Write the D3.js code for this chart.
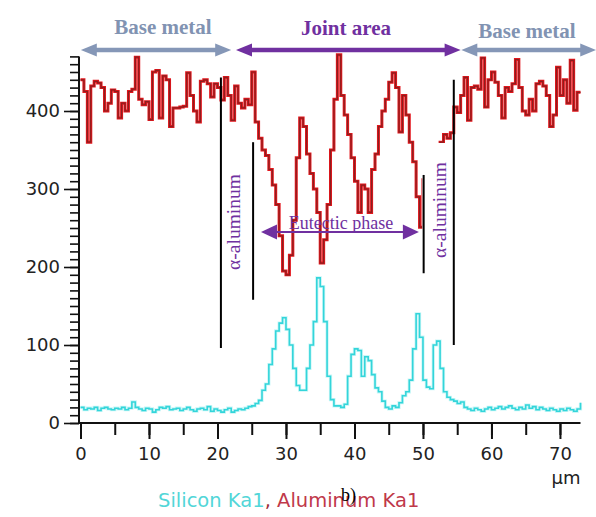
<!DOCTYPE html>
<html><head><meta charset="utf-8">
<script src="https://cdn.jsdelivr.net/npm/d3@7/dist/d3.min.js"></script>
<style>body{margin:0;background:#fff;}svg{display:block;}</style>
</head><body>
<svg id="c" width="596" height="517"></svg>
<script>
// ---- data ----
const distance = d3.range(0, 73.5, 0.5); // µm sampling grid
const aluminum = [
440,425,360,432,438,436,430,400,410,427,
425,391,410,400,425,428,469,415,408,412,
389,450,452,391,445,440,380,404,404,405,
406,449,420,400,386,438,440,435,418,435,
430,414,443,420,388,432,410,404,415,408,
450,386,365,350,343,325,305,280,240,195,
190,215,260,340,391,380,345,320,300,270,
205,235,280,350,415,472,420,395,370,340,
310,270,305,300,270,325,345,380,400,415,
437,449,430,373,420,395,360,335,290,251,
312,320,330,340,350,360,370,365,372,405,
398,420,443,388,430,432,428,468,405,440,
450,437,420,391,430,425,435,466,430,400,
395,415,400,435,438,432,420,380,395,456,
420,440,410,465,401,424,424];
const silicon = [
20,17,19,18,20,16,19,20,18,17,
19,18,20,17,19,27,20,18,16,19,
18,14,17,20,19,21,17,18,19,16,
18,20,17,15,18,19,17,21,15,18,
16,14,17,19,14,16,18,17,19,21,
22,25,29,42,50,75,95,118,128,135,
120,100,70,48,42,42,70,100,130,186,
175,130,60,30,22,22,20,24,60,88,
95,93,60,85,80,62,45,40,28,20,
18,22,20,26,35,40,55,95,140,110,
55,46,44,100,105,70,40,33,30,28,
25,27,20,18,16,19,17,15,18,20,
17,19,21,18,20,22,19,17,20,18,
23,19,21,17,20,18,16,19,17,15,
18,16,19,17,15,18,26];
const xTicks = [0,10,20,30,40,50,60,70];
const yTicks = [0,100,200,300,400];
const regionLabels = ["Base metal","Joint area","Base metal"];
const legendLabels = ["Silicon Ka1", "Aluminum Ka1"];

// ---- scales ----
const svg = d3.select("#c");
const x = d3.scaleLinear().domain([0,73]).range([80.5,580.5]);
const y = d3.scaleLinear().domain([0,470]).range([423,56.4]);

const tickFont = "'DejaVu Sans', sans-serif";

// Axes
const gx = svg.append("g").attr("transform","translate(0,423)");
gx.call(d3.axisBottom(x).tickValues(d3.range(0,73,5)).tickSize(12).tickFormat(""));
gx.call(g=>g.selectAll(".tick line").attr("stroke","#111").attr("stroke-width",2));
const gx2 = svg.append("g").attr("transform","translate(0,423)");
gx2.call(d3.axisBottom(x).tickValues(xTicks).tickSize(16).tickPadding(8));
gx.select(".domain").remove();
gx2.select(".domain").remove();
gx2.selectAll(".tick line").attr("stroke","#111").attr("stroke-width",2);
gx2.selectAll(".tick text").attr("font-family",tickFont).attr("font-size",18).attr("fill","#222");

const gy = svg.append("g").attr("transform","translate(79,0)");
gy.call(d3.axisLeft(y).tickValues(d3.range(0,471,10)).tickSize(9).tickFormat(""));
gy.select(".domain").remove();
gy.selectAll(".tick line").attr("stroke","#111").attr("stroke-width",1.6);
const gy2 = svg.append("g").attr("transform","translate(79,0)");
gy2.call(d3.axisLeft(y).tickValues(yTicks).tickSize(15).tickPadding(4));
gy2.select(".domain").remove();
gy2.selectAll(".tick line").attr("stroke","#111").attr("stroke-width",1.6);
gy2.selectAll(".tick text").attr("font-family",tickFont).attr("font-size",18).attr("fill","#222");

svg.append("line").attr("x1",79).attr("x2",79).attr("y1",y(470)).attr("y2",424).attr("stroke","#111").attr("stroke-width",2);
svg.append("line").attr("x1",79).attr("x2",x(73)).attr("y1",423).attr("y2",423).attr("stroke","#111").attr("stroke-width",2);

svg.append("text").attr("x",566).attr("y",484).attr("text-anchor","middle")
  .attr("font-family",tickFont).attr("font-size",18).attr("fill","#222").text("µm");

// Lines
const alLine = d3.line().x((d,i)=>x(distance[i])).y(d=>y(d)).curve(d3.curveStepAfter);
const siLine = d3.line().x((d,i)=>x(distance[i])).y(d=>y(d)).curve(d3.curveStepAfter);

svg.append("path").datum(silicon).attr("d",siLine).attr("fill","none")
  .attr("stroke","#9eeef0").attr("stroke-width",3.2).attr("opacity",0.55);
svg.append("path").datum(silicon).attr("d",siLine).attr("fill","none")
  .attr("stroke","#33d5da").attr("stroke-width",1.6);

svg.append("path").datum(aluminum).attr("d",alLine).attr("fill","none")
  .attr("stroke","#e3161c").attr("stroke-width",3);
svg.append("path").datum(aluminum).attr("d",alLine).attr("fill","none")
  .attr("stroke","#8a1f1f").attr("stroke-width",1.2);

// White box behind right alpha-aluminum label
svg.append("rect").attr("x",x(49.9)).attr("y",143).attr("width",29).attr("height",135).attr("fill","#fff");

// vertical black markers
const markers = [[20.5,443,96],[25.2,360,158],[50.1,318,192],[54.5,440,100]];
markers.forEach(m=>{
  svg.append("line").attr("x1",x(m[0])).attr("x2",x(m[0])).attr("y1",y(m[1])).attr("y2",y(m[2]))
    .attr("stroke","#000").attr("stroke-width",2);
});

// arrows
function arrow(xa, xb, yy, color, w, hl, hh, left, right){
  const a = x(xa), b = x(xb);
  svg.append("line").attr("x1", left? a+hl-1 : a).attr("x2", right? b-hl+1 : b)
    .attr("y1",yy).attr("y2",yy).attr("stroke",color).attr("stroke-width",w);
  if(left) svg.append("path").attr("d",`M${a},${yy}L${a+hl},${yy-hh}L${a+hl},${yy+hh}Z`).attr("fill",color);
  if(right) svg.append("path").attr("d",`M${b},${yy}L${b-hl},${yy-hh}L${b-hl},${yy+hh}Z`).attr("fill",color);
}
const grey = "#8597b7", purple = "#7030a0";
arrow(0.05, 22.0, 50, grey, 4.5, 16, 6.5, true, true);
arrow(22.7, 55.5, 50, purple, 4.5, 16, 6.5, true, true);
arrow(55.6, 75.3, 50, grey, 4.5, 16, 6.5, true, true);
arrow(26.35, 49.4, 232, purple, 2, 16, 7.5, true, true);

const serif = "'Liberation Serif', 'Times New Roman', serif";
svg.append("text").attr("x",163).attr("y",34).attr("text-anchor","middle").attr("font-family",serif)
  .attr("font-weight","bold").attr("font-size",21).attr("fill","#8193b2").text(regionLabels[0]);
svg.append("text").attr("x",346).attr("y",35).attr("text-anchor","middle").attr("font-family",serif)
  .attr("font-weight","bold").attr("font-size",21).attr("fill",purple).text(regionLabels[1]);
svg.append("text").attr("x",527).attr("y",38).attr("text-anchor","middle").attr("font-family",serif)
  .attr("font-weight","bold").attr("font-size",21).attr("fill","#8193b2").text(regionLabels[2]);

svg.append("text").attr("x",341).attr("y",229).attr("text-anchor","middle").attr("font-family",serif)
  .attr("font-size",18).attr("fill",purple).text("Eutectic phase");

svg.append("text").attr("transform","translate(240,222) rotate(-90)").attr("text-anchor","middle")
  .attr("font-family",serif).attr("font-size",19.5).attr("fill",purple).text("α-aluminum");
svg.append("text").attr("transform","translate(446,210) rotate(-90)").attr("text-anchor","middle")
  .attr("font-family",serif).attr("font-size",19.5).attr("fill",purple).text("α-aluminum");

// legend
const leg = svg.append("text").attr("x",158).attr("y",507).attr("font-family",tickFont).attr("font-size",19.5);
leg.append("tspan").attr("fill","#52d6d8").text(legendLabels[0]);
leg.append("tspan").attr("fill","#a0303a").text(", ");
leg.append("tspan").attr("fill","#c0384a").text(legendLabels[1]);

svg.append("text").attr("x",341).attr("y",501).attr("font-family",serif).attr("font-size",18)
  .attr("fill","#000").text("b)");
</script>
</body></html>
